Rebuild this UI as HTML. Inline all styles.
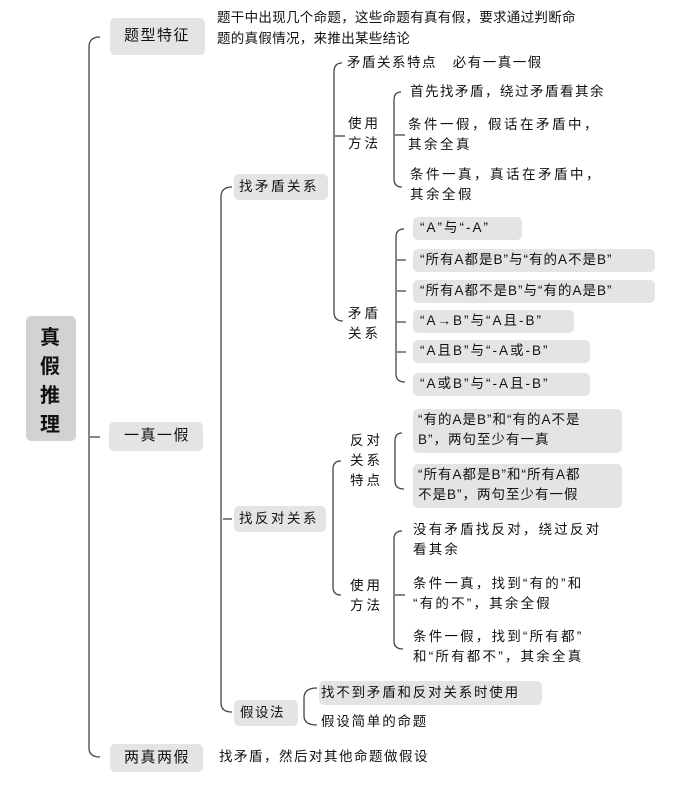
<!DOCTYPE html>
<html><head><meta charset="utf-8"><style>
body{margin:0;width:681px;height:796px;background:#fff;position:relative;overflow:hidden;font-family:"Liberation Sans","Noto Sans CJK SC",sans-serif;color:#111}
.t{position:absolute;font-size:13.5px;line-height:20px;white-space:nowrap;letter-spacing:1.5px}
.b{position:absolute;background:#e4e4e4;border-radius:5px}
svg{position:absolute;left:0;top:0}
</style></head><body>
<svg width="681" height="796" fill="none" stroke="#444" stroke-width="1.3">
<path d="M100 37 Q89 37 89 47 V748 Q89 757 100 757"/>
<path d="M90 437 H100"/>
<path d="M232 187 Q221 187 221 197 V703 Q221 712 232 712"/>
<path d="M223 519 H232"/>
<path d="M342 63 Q334 63 334 72 V312 Q334 321 343 321"/>
<path d="M335 136 H345"/>
<path d="M401 92 Q394 92 394 100 V179 Q394 187 402 187"/>
<path d="M395 135 H405"/>
<path d="M404 229 Q396 229 396 237 V374 Q396 382 405 382"/>
<path d="M397 260 H406 M397 291 H406 M397 322 H406 M397 352 H406"/>
<path d="M341 461 Q333 461 333 469 V587 Q333 595 341 595"/>
<path d="M402 433 Q395 433 395 441 V481 Q395 489 404 489"/>
<path d="M402 531 Q394 531 394 539 V641 Q394 649 403 649"/>
<path d="M395 595 H405"/>
<path d="M317 688 Q304 688 304 698 V716 Q304 725 317 725"/>
</svg>
<div class="b" style="left:26px;top:316px;width:50px;height:125px;background:#d2d2d2"></div>
<div class="t" style="left:40px;top:324px;font-size:20px;line-height:29px;font-weight:bold;white-space:normal;width:24px;letter-spacing:0">真假推理</div>
<div class="b" style="left:110px;top:18px;width:95px;height:37px"></div>
<div class="t" style="left:124px;top:26px;font-size:15px">题型特征</div>
<div class="t" style="left:217px;top:8px;letter-spacing:0.3px">题干中出现几个命题，这些命题有真有假，要求通过判断命</div>
<div class="t" style="left:217px;top:29px;letter-spacing:0.3px">题的真假情况，来推出某些结论</div>
<div class="b" style="left:109px;top:422px;width:94px;height:29px"></div>
<div class="t" style="left:124px;top:426px;font-size:15px">一真一假</div>
<div class="b" style="left:110px;top:744px;width:93px;height:28px"></div>
<div class="t" style="left:124px;top:748px;font-size:15px">两真两假</div>
<div class="t" style="left:219px;top:747px">找矛盾，然后对其他命题做假设</div>

<div class="b" style="left:234px;top:174px;width:94px;height:26px"></div>
<div class="t" style="left:239px;top:177px;letter-spacing:2.5px">找矛盾关系</div>
<div class="b" style="left:234px;top:506px;width:92px;height:26px"></div>
<div class="t" style="left:239px;top:509px;letter-spacing:2.5px">找反对关系</div>
<div class="b" style="left:234px;top:700px;width:64px;height:26px"></div>
<div class="t" style="left:240px;top:703px">假设法</div>

<div class="t" style="left:347px;top:53px">矛盾关系特点&nbsp;&nbsp;&nbsp;必有一真一假</div>
<div class="t" style="left:348px;top:114px;letter-spacing:3px">使用<br>方法</div>
<div class="t" style="left:410px;top:82px">首先找矛盾，绕过矛盾看其余</div>
<div class="t" style="left:408px;top:115px;letter-spacing:2.5px">条件一假，假话在矛盾中，<br>其余全真</div>
<div class="t" style="left:410px;top:165px;letter-spacing:2.5px">条件一真，真话在矛盾中，<br>其余全假</div>
<div class="t" style="left:348px;top:304px;letter-spacing:3px">矛盾<br>关系</div>

<div class="b" style="left:413px;top:217px;width:109px;height:23px"></div>
<div class="t" style="left:420px;top:218px;letter-spacing:2px">“A”与“-A”</div>
<div class="b" style="left:413px;top:249px;width:242px;height:23px"></div>
<div class="t" style="left:420px;top:250px;letter-spacing:1px">“所有A都是B”与“有的A不是B”</div>
<div class="b" style="left:413px;top:280px;width:242px;height:23px"></div>
<div class="t" style="left:420px;top:281px;letter-spacing:1px">“所有A都不是B”与“有的A是B”</div>
<div class="b" style="left:413px;top:310px;width:161px;height:23px"></div>
<div class="t" style="left:420px;top:311px;letter-spacing:2px">“A→B”与“A且-B”</div>
<div class="b" style="left:413px;top:340px;width:177px;height:23px"></div>
<div class="t" style="left:420px;top:341px;letter-spacing:2px">“A且B”与“-A或-B”</div>
<div class="b" style="left:413px;top:373px;width:177px;height:23px"></div>
<div class="t" style="left:420px;top:374px;letter-spacing:2px">“A或B”与“-A且-B”</div>

<div class="t" style="left:350px;top:431px;letter-spacing:3px;line-height:20px">反对<br>关系<br>特点</div>
<div class="b" style="left:413px;top:409px;width:209px;height:44px"></div>
<div class="t" style="left:418px;top:410px;letter-spacing:1px">“有的A是B”和“有的A不是<br>B”，两句至少有一真</div>
<div class="b" style="left:413px;top:464px;width:209px;height:44px"></div>
<div class="t" style="left:418px;top:465px;letter-spacing:1px">“所有A都是B”和“所有A都<br>不是B”，两句至少有一假</div>

<div class="t" style="left:350px;top:576px;letter-spacing:3px">使用<br>方法</div>
<div class="t" style="left:413px;top:520px;letter-spacing:2.2px">没有矛盾找反对，绕过反对<br>看其余</div>
<div class="t" style="left:413px;top:574px;letter-spacing:2.2px">条件一真，找到“有的”和<br>“有的不”，其余全假</div>
<div class="t" style="left:413px;top:627px;letter-spacing:2.2px">条件一假，找到“所有都”<br>和“所有都不”，其余全真</div>

<div class="b" style="left:319px;top:681px;width:223px;height:24px"></div>
<div class="t" style="left:321px;top:683px;letter-spacing:1.8px">找不到矛盾和反对关系时使用</div>
<div class="t" style="left:321px;top:712px;letter-spacing:1.8px">假设简单的命题</div>
</body></html>
